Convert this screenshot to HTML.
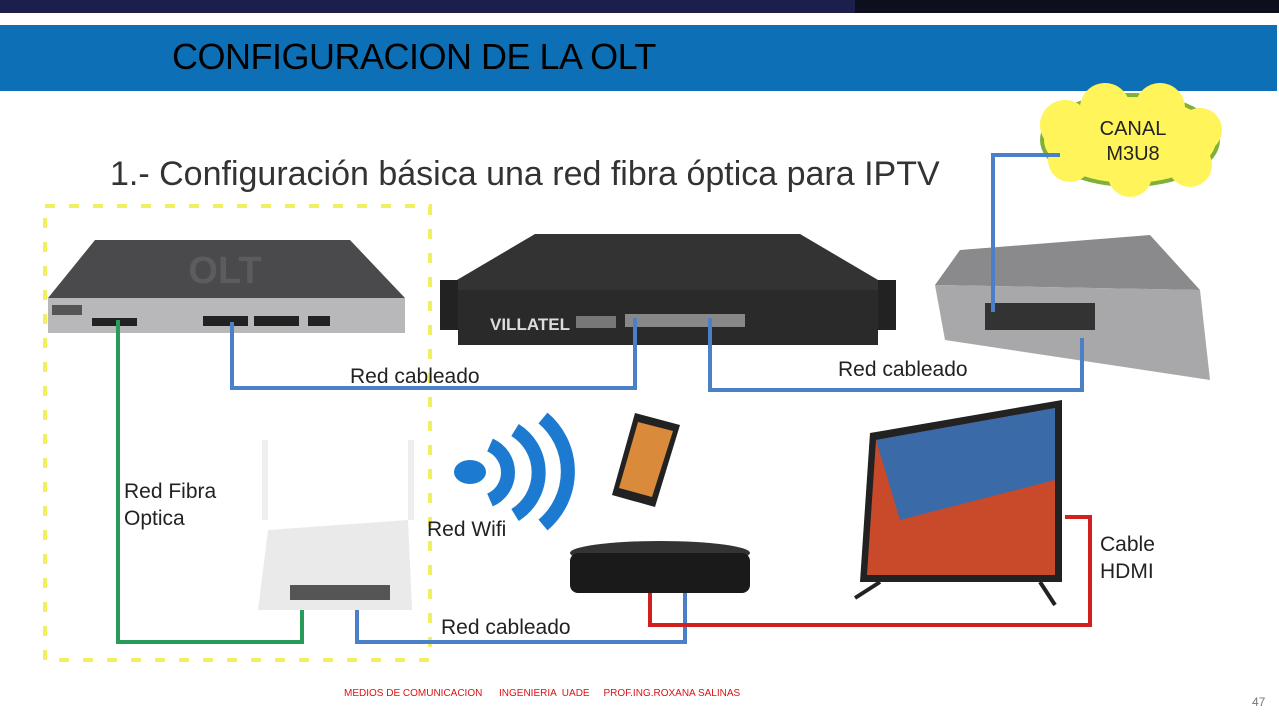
<!DOCTYPE html>
<html><head><meta charset="utf-8"><style>
body{margin:0;width:1279px;height:720px;overflow:hidden;background:#fff;font-family:"Liberation Sans",sans-serif;position:relative}
.a{position:absolute}
.lb{position:absolute;font-size:21px;color:#222;line-height:27px}
</style></head><body>
<div class="a" style="left:0;top:0;width:855px;height:13px;background:#1c1e4c"></div>
<div class="a" style="left:855px;top:0;width:424px;height:13px;background:#0e0f1e"></div>
<div class="a" style="left:0;top:25px;width:1277px;height:66px;background:#0d70b6"></div>
<div class="a" style="left:172px;top:36px;font-size:36px;color:#000;letter-spacing:-0.5px">CONFIGURACION DE LA OLT</div>
<div class="a" style="left:110px;top:155px;font-size:34px;color:#333">1.- Configuración básica una red fibra óptica para IPTV</div>
<svg class="a" style="left:0;top:0" width="1279" height="720">
<rect x="45" y="206" width="385" height="454" fill="none" stroke="#f2ef60" stroke-width="4" stroke-dasharray="10 14"/>
<g fill="#fff45a" stroke="#7fb03a" stroke-width="4">
<ellipse cx="1130" cy="140" rx="88" ry="45"/>
</g>
<g fill="#fff45a"><circle cx="1065" cy="125" r="25"/><circle cx="1105" cy="108" r="25"/><circle cx="1160" cy="108" r="25"/><circle cx="1200" cy="130" r="22"/><circle cx="1190" cy="165" r="22"/><circle cx="1130" cy="175" r="22"/><circle cx="1070" cy="160" r="22"/></g>
<text x="1133" y="135" font-size="20" text-anchor="middle" fill="#222" font-family="Liberation Sans">CANAL</text>
<text x="1133" y="160" font-size="20" text-anchor="middle" fill="#222" font-family="Liberation Sans">M3U8</text>
<polygon points="95,240 350,240 405,298 48,298" fill="#4a4a4d"/>
<text x="225" y="283" font-size="38" font-weight="bold" fill="#5c5c60" text-anchor="middle" font-family="Liberation Sans">OLT</text>
<rect x="48" y="298" width="357" height="35" fill="#b8b8bb"/>
<rect x="52" y="305" width="30" height="10" fill="#555"/>
<rect x="92" y="318" width="45" height="8" fill="#222"/>
<rect x="203" y="316" width="45" height="10" fill="#222"/>
<rect x="254" y="316" width="45" height="10" fill="#222"/>
<rect x="308" y="316" width="22" height="10" fill="#222"/>
<polygon points="535,234 800,234 895,290 440,290" fill="#333"/>
<rect x="440" y="280" width="18" height="50" fill="#222"/><rect x="878" y="280" width="18" height="50" fill="#222"/>
<rect x="458" y="290" width="420" height="55" fill="#2a2a2a"/>
<text x="490" y="330" font-size="17" font-weight="bold" fill="#ddd" font-family="Liberation Sans">VILLATEL</text>
<rect x="576" y="316" width="40" height="12" fill="#777"/>
<rect x="625" y="314" width="120" height="13" fill="#888"/>
<polygon points="960,250 1150,235 1200,290 935,285" fill="#8a8a8d"/>
<polygon points="935,285 1200,290 1210,380 945,340" fill="#a8a8ab"/>
<rect x="985" y="303" width="110" height="27" fill="#333"/>
<g fill="none" stroke-width="4">
<polyline points="232,322 232,388 635,388 635,318" stroke="#4a80c8"/>
<polyline points="710,318 710,390 1082,390 1082,338" stroke="#4a80c8"/>
<polyline points="993,312 993,155 1060,155" stroke="#4a80c8"/>
<polyline points="118,320 118,642 302,642 302,592" stroke="#2a9a5a"/>
<polyline points="357,594 357,642 685,642 685,586" stroke="#4a80c8"/>
<polyline points="650,586 650,625 1090,625 1090,517 1065,517" stroke="#d02020"/>
</g>
<rect x="262" y="440" width="6" height="80" fill="#eee"/><rect x="408" y="440" width="6" height="80" fill="#eee"/>
<polygon points="268,530 408,520 412,610 258,610" fill="#eaeaea"/>
<rect x="290" y="585" width="100" height="15" fill="#555"/>
<g fill="none" stroke="#1c7bd0" stroke-width="14">
<path d="M490,445 A30,30 0 0 1 490,500"/><path d="M515,430 A50,50 0 0 1 515,515"/><path d="M543,418 A70,70 0 0 1 543,525"/>
</g>
<ellipse cx="470" cy="472" rx="16" ry="12" fill="#1c7bd0"/>
<polygon points="635,413 680,425 655,507 612,495" fill="#222"/>
<polygon points="638,422 673,431 652,497 619,488" fill="#d98a3a"/>
<polygon points="870,433 1062,400 1062,582 860,582" fill="#222"/>
<polygon points="876,440 1055,408 1055,575 867,575" fill="#c84a2a"/>
<polygon points="876,440 1055,408 1055,480 900,520" fill="#3a6aa8"/>
<line x1="880" y1="582" x2="855" y2="598" stroke="#222" stroke-width="4"/>
<line x1="1040" y1="582" x2="1055" y2="605" stroke="#222" stroke-width="4"/>
<ellipse cx="660" cy="553" rx="90" ry="12" fill="#333"/>
<rect x="570" y="553" width="180" height="40" rx="8" fill="#1a1a1a"/>
</svg>
<div class="lb" style="left:350px;top:363px">Red cableado</div>
<div class="lb" style="left:838px;top:356px">Red cableado</div>
<div class="lb" style="left:124px;top:478px">Red Fibra<br>Optica</div>
<div class="lb" style="left:427px;top:516px">Red Wifi</div>
<div class="lb" style="left:441px;top:614px">Red cableado</div>
<div class="lb" style="left:1100px;top:531px">Cable<br>HDMI</div>
<div class="a" style="left:344px;top:688px;font-size:10px;color:#e01010;white-space:pre">MEDIOS DE COMUNICACION      INGENIERIA  UADE     PROF.ING.ROXANA SALINAS</div>
<div class="a" style="left:1252px;top:695px;font-size:12px;color:#777">47</div>
</body></html>
